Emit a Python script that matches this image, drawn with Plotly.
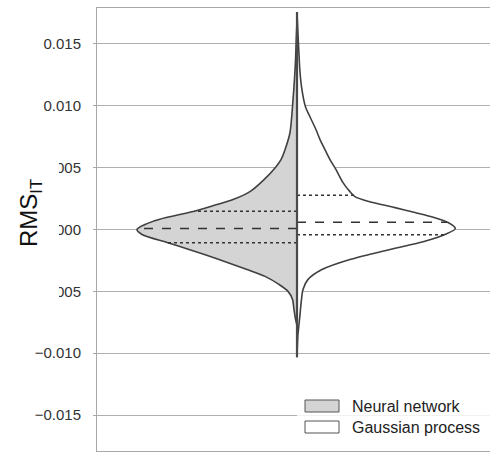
import numpy as np
import plotly.graph_objects as go

# ---- data ----
series_names = ["Neural network", "Gaussian process"]

nn_y = [0.0169, 0.01532, 0.01371, 0.0121, 0.01048, 0.00782, 0.00645, 0.00565, 0.00508,
        0.00403, 0.00306, 0.00242, 0.00202, 0.00153, 0.00081, 0.0004, 0.0, -0.0004,
        -0.00105, -0.00161, -0.00242, -0.00323, -0.00379, -0.00444, -0.005, -0.00565,
        -0.00645, -0.00726, -0.00774]
nn_density = [0.0, 0.005, 0.009, 0.016, 0.025, 0.044, 0.075, 0.10, 0.131,
              0.206, 0.294, 0.40, 0.50, 0.625, 0.8625, 0.95, 1.0, 0.969,
              0.8125, 0.675, 0.4875, 0.3125, 0.20, 0.1125, 0.056, 0.028,
              0.019, 0.009, 0.0]
nn_quartiles = [-0.00107, 0.00008, 0.00148]

gp_y = [0.01758, 0.01613, 0.01452, 0.01266, 0.01129, 0.00992, 0.00911, 0.00806, 0.00726,
        0.00645, 0.00565, 0.00484, 0.00379, 0.00306, 0.00266, 0.00226, 0.00177, 0.00137,
        0.00097, 0.00056, 0.00008, -0.0004, -0.00097, -0.00161, -0.00242, -0.00323,
        -0.00403, -0.00484, -0.00565, -0.00685, -0.00766, -0.00847, -0.00927, -0.01032]
gp_density = [0.0, 0.005, 0.011, 0.019, 0.031, 0.053, 0.081, 0.119, 0.144,
              0.175, 0.206, 0.244, 0.2875, 0.331, 0.3625, 0.45, 0.6125, 0.7375,
              0.856, 0.944, 0.99, 0.925, 0.794, 0.581, 0.331, 0.156,
              0.069, 0.0375, 0.028, 0.019, 0.0125, 0.006, 0.003, 0.0]
gp_quartiles = [-0.00042, 0.00059, 0.00277]

tick_vals = [0.015, 0.010, 0.005, 0.0, -0.005, -0.010, -0.015]
tick_text = ["0.015", "0.010", "0.005", "0.000", "\u22120.005", "\u22120.010", "\u22120.015"]

# ---- style ----
HALF = 0.4
W, H = 490, 452
ML, MR, MT, MB = 97, 0, 8, 1
FONT = "Liberation Sans, Arial, sans-serif"
OUTLINE = "#404040"
NN_FILL = "#d4d4d4"
GRID = "#b0b0b0"

def px_x(p):
    return (p - ML) / (W - ML - MR)

def px_y(p):
    return (H - MB - p) / (H - MT - MB)

fig = go.Figure()

sides = [(-1, nn_y, nn_density, nn_quartiles, NN_FILL),
         (1, gp_y, gp_density, gp_quartiles, "white")]

for sign, ys, dens, quarts, fillc in sides:
    xs = [sign * HALF * d for d in dens]
    fig.add_trace(go.Scatter(
        x=xs, y=ys, mode="lines", fill="tozerox", fillcolor=fillc,
        line=dict(color=OUTLINE, width=1.6, shape="spline", smoothing=0.8),
        showlegend=False, hoverinfo="skip"))
    # inner quartile lines
    ys_sorted = np.array(ys)[::-1]
    d_sorted = np.array(dens)[::-1]
    for i, q in enumerate(quarts):
        w = np.interp(q, ys_sorted, d_sorted) * HALF
        fig.add_trace(go.Scatter(
            x=[0, sign * w], y=[q, q], mode="lines",
            line=dict(color="#333333", width=1.4,
                      dash="dash" if i == 1 else "dot"),
            showlegend=False, hoverinfo="skip"))

# center line spanning both halves
ymin = min(min(nn_y), min(gp_y))
ymax = max(max(nn_y), max(gp_y))
fig.add_trace(go.Scatter(x=[0, 0], y=[ymin, ymax], mode="lines",
                         line=dict(color="#4a4a4a", width=2.2),
                         showlegend=False, hoverinfo="skip"))

shapes = []
annotations = []

# white block behind the y-axis title (hides part of the tick labels)
shapes.append(dict(type="rect", xref="paper", yref="paper", layer="above",
                   x0=px_x(0), x1=px_x(59), y0=px_y(312), y1=px_y(152),
                   fillcolor="white", line=dict(width=0)))
annotations.append(dict(text="RMS<sub>IT</sub>", xref="paper", yref="paper",
                        x=px_x(30), y=px_y(213), textangle=-90, showarrow=False,
                        xanchor="center", yanchor="middle",
                        font=dict(family=FONT, size=24, color="#111111")))

# legend (drawn manually)
shapes.append(dict(type="rect", xref="paper", yref="paper", layer="above",
                   x0=px_x(297), x1=px_x(W), y0=px_y(446), y1=px_y(392),
                   fillcolor="rgba(255,255,255,0.82)", line=dict(width=0)))
legend_fills = [NN_FILL, "white"]
for i, (name, fc) in enumerate(zip(series_names, legend_fills)):
    top = 400 + 21 * i
    shapes.append(dict(type="rect", xref="paper", yref="paper", layer="above",
                       x0=px_x(305), x1=px_x(339), y0=px_y(top + 12), y1=px_y(top),
                       fillcolor=fc, line=dict(color="#555555", width=1)))
    annotations.append(dict(text=name, xref="paper", yref="paper",
                            x=px_x(350), y=px_y(top + 6), showarrow=False,
                            xanchor="left", yanchor="middle",
                            font=dict(family=FONT, size=16, color="#222222")))

fig.update_layout(
    width=W, height=H,
    margin=dict(l=ML, r=MR, t=MT, b=MB),
    paper_bgcolor="white", plot_bgcolor="white",
    showlegend=False,
    shapes=shapes, annotations=annotations,
    xaxis=dict(range=[-0.5, 0.4825], showgrid=False, zeroline=False,
               showticklabels=False, ticks="", showline=True, mirror=True,
               linecolor="#a8a8a8", linewidth=1),
    yaxis=dict(range=[-0.0179, 0.0179], tickvals=tick_vals, ticktext=tick_text,
               showgrid=True, gridcolor=GRID, gridwidth=1, zeroline=False,
               showline=True, linecolor="#a8a8a8", linewidth=1,
               ticks="outside", ticklen=3, tickcolor="#a8a8a8",
               ticklabelstandoff=9,
               tickfont=dict(family=FONT, size=15, color="#333333")),
)

fig.write_html("out.html")
